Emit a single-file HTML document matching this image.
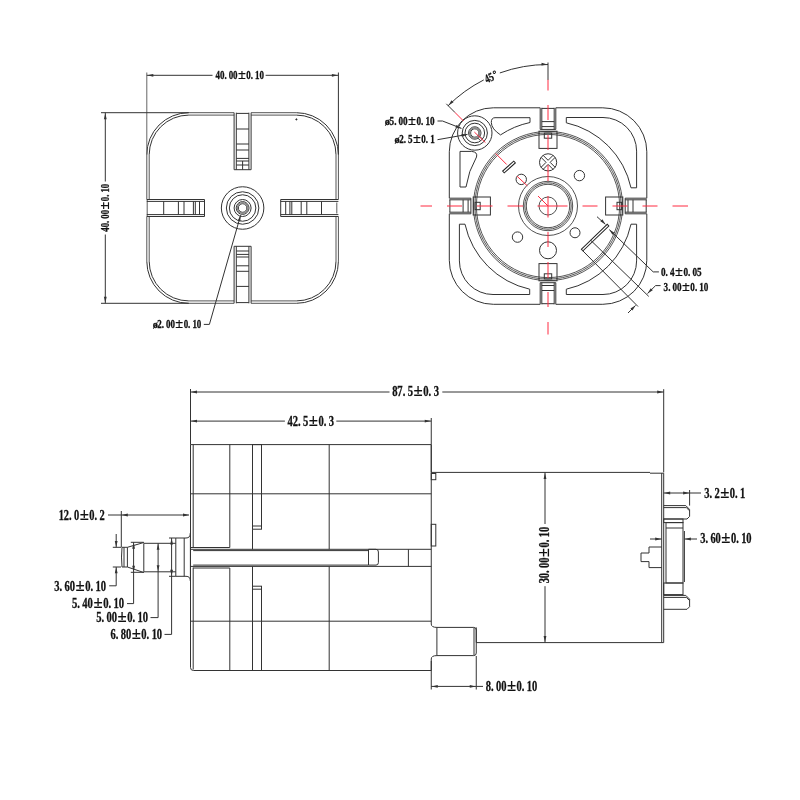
<!DOCTYPE html>
<html><head><meta charset="utf-8"><style>
html,body{margin:0;padding:0;background:#fff;}
svg{display:block;will-change:transform;}
text{font-family:"Liberation Serif",serif;font-weight:bold;fill:#111;stroke:#111;stroke-width:0.3px;}
text.pm{stroke-width:0.15px;}
</style></head><body>
<svg width="800" height="800" viewBox="0 0 800 800">
<rect width="800" height="800" fill="#fff"/>
<line x1="188.80" y1="112.70" x2="234.10" y2="112.70" stroke="#555" stroke-width="1.0" />
<line x1="251.10" y1="112.70" x2="296.40" y2="112.70" stroke="#555" stroke-width="1.0" />
<line x1="188.80" y1="303.30" x2="234.10" y2="303.30" stroke="#555" stroke-width="1.0" />
<line x1="251.10" y1="303.30" x2="296.40" y2="303.30" stroke="#555" stroke-width="1.0" />
<line x1="146.80" y1="154.70" x2="146.80" y2="199.50" stroke="#555" stroke-width="1.0" />
<line x1="146.80" y1="216.50" x2="146.80" y2="261.30" stroke="#555" stroke-width="1.0" />
<line x1="338.40" y1="154.70" x2="338.40" y2="199.50" stroke="#555" stroke-width="1.0" />
<line x1="338.40" y1="216.50" x2="338.40" y2="261.30" stroke="#555" stroke-width="1.0" />
<path d="M146.80,154.70 A42,42 0 0 1 188.80,112.70" stroke="#333" stroke-width="1.0" fill="none" />
<path d="M296.40,112.70 A42,42 0 0 1 338.40,154.70" stroke="#333" stroke-width="1.0" fill="none" />
<path d="M338.40,261.30 A42,42 0 0 1 296.40,303.30" stroke="#333" stroke-width="1.0" fill="none" />
<path d="M188.80,303.30 A42,42 0 0 1 146.80,261.30" stroke="#333" stroke-width="1.0" fill="none" />
<line x1="188.80" y1="115.10" x2="234.10" y2="115.10" stroke="#555" stroke-width="1.0" />
<line x1="251.10" y1="115.10" x2="296.40" y2="115.10" stroke="#555" stroke-width="1.0" />
<line x1="188.80" y1="300.90" x2="234.10" y2="300.90" stroke="#555" stroke-width="1.0" />
<line x1="251.10" y1="300.90" x2="296.40" y2="300.90" stroke="#555" stroke-width="1.0" />
<line x1="149.20" y1="154.70" x2="149.20" y2="199.50" stroke="#555" stroke-width="1.0" />
<line x1="149.20" y1="216.50" x2="149.20" y2="261.30" stroke="#555" stroke-width="1.0" />
<line x1="336.00" y1="154.70" x2="336.00" y2="199.50" stroke="#555" stroke-width="1.0" />
<line x1="336.00" y1="216.50" x2="336.00" y2="261.30" stroke="#555" stroke-width="1.0" />
<path d="M149.20,154.70 A39.6,39.6 0 0 1 188.80,115.10" stroke="#333" stroke-width="1.0" fill="none" />
<path d="M296.40,115.10 A39.6,39.6 0 0 1 336.00,154.70" stroke="#333" stroke-width="1.0" fill="none" />
<path d="M336.00,261.30 A39.6,39.6 0 0 1 296.40,300.90" stroke="#333" stroke-width="1.0" fill="none" />
<path d="M188.80,300.90 A39.6,39.6 0 0 1 149.20,261.30" stroke="#333" stroke-width="1.0" fill="none" />
<circle cx="296.40" cy="119.40" r="0.60" stroke="#333" stroke-width="1.0" fill="#222"/>
<line x1="234.10" y1="112.70" x2="234.10" y2="169.70" stroke="#333" stroke-width="1.0" />
<line x1="251.10" y1="112.70" x2="251.10" y2="169.70" stroke="#333" stroke-width="1.0" />
<line x1="236.30" y1="112.70" x2="236.30" y2="169.70" stroke="#333" stroke-width="1.0" />
<line x1="248.90" y1="112.70" x2="248.90" y2="169.70" stroke="#333" stroke-width="1.0" />
<line x1="234.10" y1="169.70" x2="251.10" y2="169.70" stroke="#333" stroke-width="1.0" />
<line x1="236.30" y1="113.40" x2="248.90" y2="113.40" stroke="#333" stroke-width="1.0" />
<line x1="236.30" y1="129.00" x2="248.90" y2="129.00" stroke="#333" stroke-width="1.0" />
<line x1="236.30" y1="144.00" x2="248.90" y2="144.00" stroke="#333" stroke-width="1.0" />
<line x1="236.30" y1="150.00" x2="248.90" y2="150.00" stroke="#333" stroke-width="1.0" />
<line x1="236.30" y1="158.40" x2="248.90" y2="158.40" stroke="#333" stroke-width="1.0" />
<line x1="236.30" y1="161.00" x2="248.90" y2="161.00" stroke="#333" stroke-width="1.0" />
<line x1="236.30" y1="165.00" x2="248.90" y2="165.00" stroke="#333" stroke-width="1.0" />
<line x1="242.60" y1="161.00" x2="242.60" y2="169.70" stroke="#333" stroke-width="1.0" />
<line x1="234.10" y1="303.30" x2="234.10" y2="246.30" stroke="#333" stroke-width="1.0" />
<line x1="251.10" y1="303.30" x2="251.10" y2="246.30" stroke="#333" stroke-width="1.0" />
<line x1="236.30" y1="303.30" x2="236.30" y2="246.30" stroke="#333" stroke-width="1.0" />
<line x1="248.90" y1="303.30" x2="248.90" y2="246.30" stroke="#333" stroke-width="1.0" />
<line x1="234.10" y1="246.30" x2="251.10" y2="246.30" stroke="#333" stroke-width="1.0" />
<line x1="236.30" y1="302.60" x2="248.90" y2="302.60" stroke="#333" stroke-width="1.0" />
<line x1="236.30" y1="251.00" x2="248.90" y2="251.00" stroke="#333" stroke-width="1.0" />
<line x1="236.30" y1="254.40" x2="248.90" y2="254.40" stroke="#333" stroke-width="1.0" />
<line x1="236.30" y1="257.00" x2="248.90" y2="257.00" stroke="#333" stroke-width="1.0" />
<line x1="236.30" y1="265.80" x2="248.90" y2="265.80" stroke="#333" stroke-width="1.0" />
<line x1="236.30" y1="271.30" x2="248.90" y2="271.30" stroke="#333" stroke-width="1.0" />
<line x1="236.30" y1="286.40" x2="248.90" y2="286.40" stroke="#333" stroke-width="1.0" />
<line x1="146.80" y1="199.50" x2="204.50" y2="199.50" stroke="#333" stroke-width="1.0" />
<line x1="146.80" y1="216.50" x2="204.50" y2="216.50" stroke="#333" stroke-width="1.0" />
<line x1="146.80" y1="201.40" x2="204.50" y2="201.40" stroke="#333" stroke-width="1.0" />
<line x1="146.80" y1="214.60" x2="204.50" y2="214.60" stroke="#333" stroke-width="1.0" />
<line x1="204.50" y1="199.50" x2="204.50" y2="216.50" stroke="#333" stroke-width="1.0" />
<line x1="163.70" y1="201.40" x2="163.70" y2="214.60" stroke="#333" stroke-width="1.0" />
<line x1="178.40" y1="201.40" x2="178.40" y2="214.60" stroke="#333" stroke-width="1.0" />
<line x1="184.00" y1="201.40" x2="184.00" y2="214.60" stroke="#333" stroke-width="1.0" />
<line x1="193.40" y1="201.40" x2="193.40" y2="214.60" stroke="#333" stroke-width="1.0" />
<line x1="195.30" y1="201.40" x2="195.30" y2="214.60" stroke="#333" stroke-width="1.0" />
<line x1="199.50" y1="201.40" x2="199.50" y2="214.60" stroke="#333" stroke-width="1.0" />
<line x1="147.20" y1="199.50" x2="147.20" y2="216.50" stroke="#333" stroke-width="0.8" />
<line x1="336.80" y1="202.50" x2="336.80" y2="213.50" stroke="#333" stroke-width="0.8" />
<line x1="338.40" y1="199.50" x2="280.70" y2="199.50" stroke="#333" stroke-width="1.0" />
<line x1="338.40" y1="216.50" x2="280.70" y2="216.50" stroke="#333" stroke-width="1.0" />
<line x1="338.40" y1="201.40" x2="280.70" y2="201.40" stroke="#333" stroke-width="1.0" />
<line x1="338.40" y1="214.60" x2="280.70" y2="214.60" stroke="#333" stroke-width="1.0" />
<line x1="280.70" y1="199.50" x2="280.70" y2="216.50" stroke="#333" stroke-width="1.0" />
<line x1="321.50" y1="201.40" x2="321.50" y2="214.60" stroke="#333" stroke-width="1.0" />
<line x1="306.80" y1="201.40" x2="306.80" y2="214.60" stroke="#333" stroke-width="1.0" />
<line x1="301.20" y1="201.40" x2="301.20" y2="214.60" stroke="#333" stroke-width="1.0" />
<line x1="291.80" y1="201.40" x2="291.80" y2="214.60" stroke="#333" stroke-width="1.0" />
<line x1="289.90" y1="201.40" x2="289.90" y2="214.60" stroke="#333" stroke-width="1.0" />
<line x1="285.70" y1="201.40" x2="285.70" y2="214.60" stroke="#333" stroke-width="1.0" />
<circle cx="242.60" cy="208.00" r="21.25" stroke="#333" stroke-width="1.0" fill="none"/>
<circle cx="242.60" cy="208.00" r="16.25" stroke="#333" stroke-width="1.0" fill="none"/>
<circle cx="242.60" cy="208.00" r="13.25" stroke="#333" stroke-width="1.0" fill="none"/>
<circle cx="242.60" cy="208.00" r="8.50" stroke="#333" stroke-width="1.0" fill="none"/>
<circle cx="242.60" cy="208.00" r="6.40" stroke="#333" stroke-width="1.0" fill="none"/>
<circle cx="242.60" cy="208.00" r="4.30" stroke="#333" stroke-width="1.0" fill="none"/>
<circle cx="242.60" cy="208.00" r="5.35" stroke="#888" stroke-width="1.4" fill="none"/>
<line x1="146.80" y1="72.50" x2="146.80" y2="154.70" stroke="#666" stroke-width="1.0" />
<line x1="338.40" y1="72.50" x2="338.40" y2="154.70" stroke="#333" stroke-width="1.0" />
<line x1="146.80" y1="75.30" x2="212.50" y2="75.30" stroke="#333" stroke-width="1.0" />
<line x1="265.60" y1="75.30" x2="338.40" y2="75.30" stroke="#333" stroke-width="1.0" />
<path d="M147.30,75.30 L153.30,73.90 L153.30,76.70Z" fill="#333" stroke="none"/>
<path d="M337.90,75.30 L331.90,76.70 L331.90,73.90Z" fill="#333" stroke="none"/>
<g><text transform="translate(217.79 78.80) scale(0.761 1)" font-size="11.79" text-anchor="middle">4</text><text transform="translate(222.17 78.80) scale(0.761 1)" font-size="11.79" text-anchor="middle">0</text><text transform="translate(225.55 78.80) scale(0.761 1)" font-size="11.79" text-anchor="middle">.</text><text transform="translate(230.94 78.80) scale(0.761 1)" font-size="11.79" text-anchor="middle">0</text><text transform="translate(235.32 78.80) scale(0.761 1)" font-size="11.79" text-anchor="middle">0</text><text transform="translate(241.89 78.80) scale(1.000 1)" font-size="14.36" text-anchor="middle" class="pm">±</text><text transform="translate(248.46 78.80) scale(0.761 1)" font-size="11.79" text-anchor="middle">0</text><text transform="translate(251.84 78.80) scale(0.761 1)" font-size="11.79" text-anchor="middle">.</text><text transform="translate(257.23 78.80) scale(0.761 1)" font-size="11.79" text-anchor="middle">1</text><text transform="translate(261.61 78.80) scale(0.761 1)" font-size="11.79" text-anchor="middle">0</text></g>
<line x1="101.00" y1="112.70" x2="188.80" y2="112.70" stroke="#333" stroke-width="1.0" />
<line x1="101.00" y1="303.30" x2="188.80" y2="303.30" stroke="#333" stroke-width="1.0" />
<line x1="105.30" y1="112.70" x2="105.30" y2="181.50" stroke="#333" stroke-width="1.0" />
<line x1="105.30" y1="234.50" x2="105.30" y2="303.30" stroke="#333" stroke-width="1.0" />
<path d="M105.30,113.20 L106.70,119.20 L103.90,119.20Z" fill="#333" stroke="none"/>
<path d="M105.30,302.80 L103.90,296.80 L106.70,296.80Z" fill="#333" stroke="none"/>
<g transform="rotate(-90 105.25 207.75)"><text transform="translate(83.52 211.70) scale(0.755 1)" font-size="11.79" text-anchor="middle">4</text><text transform="translate(87.87 211.70) scale(0.755 1)" font-size="11.79" text-anchor="middle">0</text><text transform="translate(91.21 211.70) scale(0.755 1)" font-size="11.79" text-anchor="middle">.</text><text transform="translate(96.56 211.70) scale(0.755 1)" font-size="11.79" text-anchor="middle">0</text><text transform="translate(100.90 211.70) scale(0.755 1)" font-size="11.79" text-anchor="middle">0</text><text transform="translate(107.42 211.70) scale(1.000 1)" font-size="14.36" text-anchor="middle" class="pm">±</text><text transform="translate(113.94 211.70) scale(0.755 1)" font-size="11.79" text-anchor="middle">0</text><text transform="translate(117.29 211.70) scale(0.755 1)" font-size="11.79" text-anchor="middle">.</text><text transform="translate(122.63 211.70) scale(0.755 1)" font-size="11.79" text-anchor="middle">1</text><text transform="translate(126.98 211.70) scale(0.755 1)" font-size="11.79" text-anchor="middle">0</text></g>
<line x1="240.60" y1="215.30" x2="209.40" y2="324.40" stroke="#333" stroke-width="1.0" />
<line x1="209.40" y1="324.40" x2="203.80" y2="324.40" stroke="#333" stroke-width="1.0" />
<path d="M240.60,215.30 L240.30,221.45 L237.60,220.68Z" fill="#333" stroke="none"/>
<g><text transform="translate(155.19 327.90) scale(0.906 1)" font-size="11.20" text-anchor="middle">ø</text><text transform="translate(159.57 328.10) scale(0.761 1)" font-size="11.79" text-anchor="middle">2</text><text transform="translate(162.95 328.10) scale(0.761 1)" font-size="11.79" text-anchor="middle">.</text><text transform="translate(168.34 328.10) scale(0.761 1)" font-size="11.79" text-anchor="middle">0</text><text transform="translate(172.72 328.10) scale(0.761 1)" font-size="11.79" text-anchor="middle">0</text><text transform="translate(179.29 328.10) scale(1.000 1)" font-size="14.36" text-anchor="middle" class="pm">±</text><text transform="translate(185.86 328.10) scale(0.761 1)" font-size="11.79" text-anchor="middle">0</text><text transform="translate(189.24 328.10) scale(0.761 1)" font-size="11.79" text-anchor="middle">.</text><text transform="translate(194.63 328.10) scale(0.761 1)" font-size="11.79" text-anchor="middle">1</text><text transform="translate(199.01 328.10) scale(0.761 1)" font-size="11.79" text-anchor="middle">0</text></g>
<line x1="493.30" y1="107.80" x2="540.20" y2="107.80" stroke="#333" stroke-width="1.0" />
<line x1="555.80" y1="107.80" x2="602.80" y2="107.80" stroke="#333" stroke-width="1.0" />
<line x1="493.30" y1="304.30" x2="540.20" y2="304.30" stroke="#333" stroke-width="1.0" />
<line x1="555.80" y1="304.30" x2="602.80" y2="304.30" stroke="#333" stroke-width="1.0" />
<line x1="449.30" y1="151.80" x2="449.30" y2="198.20" stroke="#333" stroke-width="1.0" />
<line x1="449.30" y1="213.80" x2="449.30" y2="260.30" stroke="#333" stroke-width="1.0" />
<line x1="646.80" y1="151.80" x2="646.80" y2="198.20" stroke="#333" stroke-width="1.0" />
<line x1="646.80" y1="213.80" x2="646.80" y2="260.30" stroke="#333" stroke-width="1.0" />
<path d="M449.30,151.80 A44,44 0 0 1 493.30,107.80" stroke="#333" stroke-width="1.0" fill="none" />
<path d="M602.80,107.80 A44,44 0 0 1 646.80,151.80" stroke="#333" stroke-width="1.0" fill="none" />
<path d="M646.80,260.30 A44,44 0 0 1 602.80,304.30" stroke="#333" stroke-width="1.0" fill="none" />
<path d="M493.30,304.30 A44,44 0 0 1 449.30,260.30" stroke="#333" stroke-width="1.0" fill="none" />
<circle cx="548.00" cy="206.00" r="74.60" stroke="#444" stroke-width="0.9" fill="none"/>
<circle cx="548.00" cy="206.00" r="73.10" stroke="#444" stroke-width="0.9" fill="none"/>
<circle cx="548.00" cy="206.00" r="71.60" stroke="#444" stroke-width="0.9" fill="none"/>
<line x1="540.20" y1="107.80" x2="540.20" y2="129.40" stroke="#333" stroke-width="1.0" />
<line x1="555.80" y1="107.80" x2="555.80" y2="129.40" stroke="#333" stroke-width="1.0" />
<line x1="541.80" y1="107.80" x2="541.80" y2="129.40" stroke="#333" stroke-width="1.0" />
<line x1="554.20" y1="107.80" x2="554.20" y2="129.40" stroke="#333" stroke-width="1.0" />
<line x1="540.20" y1="129.40" x2="555.80" y2="129.40" stroke="#333" stroke-width="1.0" />
<line x1="541.80" y1="108.40" x2="554.20" y2="108.40" stroke="#333" stroke-width="1.0" />
<line x1="541.80" y1="121.60" x2="554.20" y2="121.60" stroke="#333" stroke-width="1.0" />
<line x1="541.80" y1="126.60" x2="554.20" y2="126.60" stroke="#333" stroke-width="1.0" />
<line x1="540.20" y1="304.30" x2="540.20" y2="282.70" stroke="#333" stroke-width="1.0" />
<line x1="555.80" y1="304.30" x2="555.80" y2="282.70" stroke="#333" stroke-width="1.0" />
<line x1="541.80" y1="304.30" x2="541.80" y2="282.70" stroke="#333" stroke-width="1.0" />
<line x1="554.20" y1="304.30" x2="554.20" y2="282.70" stroke="#333" stroke-width="1.0" />
<line x1="540.20" y1="282.70" x2="555.80" y2="282.70" stroke="#333" stroke-width="1.0" />
<line x1="541.80" y1="303.70" x2="554.20" y2="303.70" stroke="#333" stroke-width="1.0" />
<line x1="541.80" y1="290.50" x2="554.20" y2="290.50" stroke="#333" stroke-width="1.0" />
<line x1="541.80" y1="285.50" x2="554.20" y2="285.50" stroke="#333" stroke-width="1.0" />
<line x1="449.30" y1="198.20" x2="470.90" y2="198.20" stroke="#333" stroke-width="1.0" />
<line x1="449.30" y1="213.80" x2="470.90" y2="213.80" stroke="#333" stroke-width="1.0" />
<line x1="449.30" y1="199.80" x2="470.90" y2="199.80" stroke="#333" stroke-width="1.0" />
<line x1="449.30" y1="212.20" x2="470.90" y2="212.20" stroke="#333" stroke-width="1.0" />
<line x1="470.90" y1="198.20" x2="470.90" y2="213.80" stroke="#333" stroke-width="1.0" />
<line x1="449.90" y1="199.80" x2="449.90" y2="212.20" stroke="#333" stroke-width="1.0" />
<line x1="463.10" y1="199.80" x2="463.10" y2="212.20" stroke="#333" stroke-width="1.0" />
<line x1="468.10" y1="199.80" x2="468.10" y2="212.20" stroke="#333" stroke-width="1.0" />
<line x1="646.80" y1="198.20" x2="625.20" y2="198.20" stroke="#333" stroke-width="1.0" />
<line x1="646.80" y1="213.80" x2="625.20" y2="213.80" stroke="#333" stroke-width="1.0" />
<line x1="646.80" y1="199.80" x2="625.20" y2="199.80" stroke="#333" stroke-width="1.0" />
<line x1="646.80" y1="212.20" x2="625.20" y2="212.20" stroke="#333" stroke-width="1.0" />
<line x1="625.20" y1="198.20" x2="625.20" y2="213.80" stroke="#333" stroke-width="1.0" />
<line x1="646.20" y1="199.80" x2="646.20" y2="212.20" stroke="#333" stroke-width="1.0" />
<line x1="633.00" y1="199.80" x2="633.00" y2="212.20" stroke="#333" stroke-width="1.0" />
<line x1="628.00" y1="199.80" x2="628.00" y2="212.20" stroke="#333" stroke-width="1.0" />
<rect x="539.00" y="131.20" width="18.00" height="17.20" stroke="#333" stroke-width="1.0" fill="none"/>
<rect x="539.00" y="263.60" width="18.00" height="17.20" stroke="#333" stroke-width="1.0" fill="none"/>
<rect x="473.20" y="197.00" width="17.20" height="18.00" stroke="#333" stroke-width="1.0" fill="none"/>
<rect x="605.60" y="197.00" width="17.20" height="18.00" stroke="#333" stroke-width="1.0" fill="none"/>
<rect x="544.30" y="133.10" width="7.40" height="5.10" stroke="#333" stroke-width="1.0" fill="none"/>
<rect x="544.30" y="273.80" width="7.40" height="5.10" stroke="#333" stroke-width="1.0" fill="none"/>
<rect x="475.10" y="202.30" width="5.10" height="7.40" stroke="#333" stroke-width="1.0" fill="none"/>
<rect x="617.00" y="202.30" width="4.60" height="7.40" stroke="#333" stroke-width="1.0" fill="none"/>
<circle cx="548.00" cy="206.00" r="29.50" stroke="#333" stroke-width="0.85" fill="none"/>
<circle cx="548.00" cy="206.00" r="24.70" stroke="#333" stroke-width="0.85" fill="none"/>
<circle cx="548.00" cy="206.00" r="23.20" stroke="#333" stroke-width="0.85" fill="none"/>
<circle cx="548.00" cy="206.00" r="21.70" stroke="#333" stroke-width="0.85" fill="none"/>
<circle cx="548.00" cy="206.00" r="9.00" stroke="#333" stroke-width="0.85" fill="none"/>
<circle cx="548.10" cy="162.35" r="8.60" stroke="#333" stroke-width="1.0" fill="none"/>
<line x1="548.10" y1="160.30" x2="543.13" y2="155.33" stroke="#333" stroke-width="1.0" />
<line x1="548.10" y1="160.30" x2="553.07" y2="155.33" stroke="#333" stroke-width="1.0" />
<line x1="550.15" y1="162.35" x2="555.12" y2="157.38" stroke="#333" stroke-width="1.0" />
<line x1="550.15" y1="162.35" x2="555.12" y2="167.32" stroke="#333" stroke-width="1.0" />
<line x1="548.10" y1="164.40" x2="553.07" y2="169.37" stroke="#333" stroke-width="1.0" />
<line x1="548.10" y1="164.40" x2="543.13" y2="169.37" stroke="#333" stroke-width="1.0" />
<line x1="546.05" y1="162.35" x2="541.08" y2="167.32" stroke="#333" stroke-width="1.0" />
<line x1="546.05" y1="162.35" x2="541.08" y2="157.38" stroke="#333" stroke-width="1.0" />
<circle cx="521.25" cy="179.40" r="5.20" stroke="#333" stroke-width="1.0" fill="none"/>
<circle cx="579.40" cy="175.60" r="5.20" stroke="#333" stroke-width="1.0" fill="none"/>
<circle cx="517.50" cy="237.10" r="5.20" stroke="#333" stroke-width="1.0" fill="none"/>
<circle cx="575.00" cy="232.75" r="5.00" stroke="#333" stroke-width="1.0" fill="none"/>
<circle cx="548.00" cy="250.30" r="8.50" stroke="#333" stroke-width="1.0" fill="none"/>
<rect x="-7.5" y="-1.2" width="15" height="2.4" transform="translate(509 167) rotate(-42)" stroke="#222" stroke-width="1" fill="none"/>
<circle cx="474.80" cy="133.00" r="17.20" stroke="#333" stroke-width="1.0" fill="none"/>
<circle cx="474.80" cy="133.00" r="12.60" stroke="#333" stroke-width="1.0" fill="none"/>
<circle cx="474.80" cy="133.00" r="9.80" stroke="#333" stroke-width="1.0" fill="none"/>
<circle cx="474.80" cy="133.00" r="6.20" stroke="#333" stroke-width="1.0" fill="none"/>
<circle cx="474.80" cy="133.00" r="4.20" stroke="#333" stroke-width="1.0" fill="none"/>
<circle cx="474.80" cy="133.00" r="5.20" stroke="#888" stroke-width="1.5" fill="none"/>
<line x1="478.00" y1="138.20" x2="480.40" y2="140.60" stroke="#333" stroke-width="1.0" />
<line x1="479.80" y1="136.40" x2="482.20" y2="138.80" stroke="#333" stroke-width="1.0" />
<path d="M566.3,117.5 L603,117.5 A33.6,33.6 0 0 1 636.6,151.1 L636.6,187.8 L631,187.8 A85,85 0 0 0 566.3,122.8 Z" stroke="#333" stroke-width="1.0" fill="none" />
<path d="M566.3,294.5 L603,294.5 A33.6,33.6 0 0 0 636.6,260.9 L636.6,224.2 L631,224.2 A85,85 0 0 1 566.3,289.2 Z" stroke="#333" stroke-width="1.0" fill="none" />
<path d="M529.7,294.5 L493,294.5 A33.6,33.6 0 0 1 459.4,260.9 L459.4,224.2 L465,224.2 A85,85 0 0 0 529.7,289.2 Z" stroke="#333" stroke-width="1.0" fill="none" />
<path d="M495,117.7 L530,117.7 L530,122.5 A85,85 0 0 0 500.5,134.9 Q491.5,129 491.3,122.5 Q491.3,117.7 495,117.7 Z" stroke="#333" stroke-width="1.0" fill="none" />
<path d="M460,151.4 L471.6,151.4 Q478,152 476.5,157 A85,85 0 0 0 466,187 L460,187 Z" stroke="#333" stroke-width="1.0" fill="none" />
<line x1="420.50" y1="206.00" x2="432.00" y2="206.00" stroke="#ff2a40" stroke-width="1.0" />
<line x1="447.00" y1="206.00" x2="462.00" y2="206.00" stroke="#ff2a40" stroke-width="1.0" />
<line x1="477.00" y1="206.00" x2="492.50" y2="206.00" stroke="#ff2a40" stroke-width="1.0" />
<line x1="507.50" y1="206.00" x2="523.00" y2="206.00" stroke="#ff2a40" stroke-width="1.0" />
<line x1="537.50" y1="206.00" x2="567.50" y2="206.00" stroke="#ff2a40" stroke-width="1.0" />
<line x1="582.50" y1="206.00" x2="597.50" y2="206.00" stroke="#ff2a40" stroke-width="1.0" />
<line x1="612.50" y1="206.00" x2="627.50" y2="206.00" stroke="#ff2a40" stroke-width="1.0" />
<line x1="642.50" y1="206.00" x2="657.50" y2="206.00" stroke="#ff2a40" stroke-width="1.0" />
<line x1="672.50" y1="206.00" x2="688.00" y2="206.00" stroke="#ff2a40" stroke-width="1.0" />
<line x1="548.00" y1="79.50" x2="548.00" y2="90.50" stroke="#ff2a40" stroke-width="1.0" />
<line x1="548.00" y1="105.00" x2="548.00" y2="120.00" stroke="#ff2a40" stroke-width="1.0" />
<line x1="548.00" y1="135.00" x2="548.00" y2="150.00" stroke="#ff2a40" stroke-width="1.0" />
<line x1="548.00" y1="165.00" x2="548.00" y2="181.00" stroke="#ff2a40" stroke-width="1.0" />
<line x1="548.00" y1="196.00" x2="548.00" y2="217.50" stroke="#ff2a40" stroke-width="1.0" />
<line x1="548.00" y1="232.00" x2="548.00" y2="247.00" stroke="#ff2a40" stroke-width="1.0" />
<line x1="548.00" y1="262.00" x2="548.00" y2="278.00" stroke="#ff2a40" stroke-width="1.0" />
<line x1="548.00" y1="292.00" x2="548.00" y2="307.00" stroke="#ff2a40" stroke-width="1.0" />
<line x1="548.00" y1="322.00" x2="548.00" y2="334.50" stroke="#ff2a40" stroke-width="1.0" />
<line x1="548.00" y1="62.50" x2="548.00" y2="79.80" stroke="#333" stroke-width="1.0" />
<line x1="446.30" y1="103.80" x2="455.00" y2="112.50" stroke="#333" stroke-width="1.0" />
<line x1="455.00" y1="112.50" x2="463.50" y2="121.00" stroke="#ff2a40" stroke-width="1.0" />
<line x1="474.40" y1="132.10" x2="485.40" y2="142.50" stroke="#ff2a40" stroke-width="1.0" />
<line x1="495.70" y1="153.50" x2="506.70" y2="164.50" stroke="#ff2a40" stroke-width="1.0" />
<line x1="517.00" y1="176.20" x2="527.30" y2="185.80" stroke="#ff2a40" stroke-width="1.0" />
<line x1="538.00" y1="196.00" x2="548.00" y2="206.00" stroke="#ff2a40" stroke-width="1.0" />
<path d="M548.00,64.50 A141.5,141.5 0 0 0 499.84,72.95" stroke="#333" stroke-width="1.0" fill="none" />
<path d="M483.76,79.92 A141.5,141.5 0 0 0 447.94,105.94" stroke="#333" stroke-width="1.0" fill="none" />
<path d="M547.50,64.50 L541.44,65.60 L541.58,62.80Z" fill="#333" stroke="none"/>
<path d="M448.34,105.54 L451.52,100.27 L453.53,102.22Z" fill="#333" stroke="none"/>
<g transform="rotate(-24 491.00 77.00)"><text transform="translate(486.87 81.10) scale(0.725 1)" font-size="12.24" text-anchor="middle">4</text><text transform="translate(491.20 81.10) scale(0.725 1)" font-size="12.24" text-anchor="middle">5</text><circle cx="495.97" cy="74.00" r="1.15" stroke="#111" stroke-width="0.9" fill="none"/></g>
<line x1="437.50" y1="121.00" x2="442.50" y2="121.00" stroke="#333" stroke-width="1.0" />
<line x1="442.50" y1="121.00" x2="461.50" y2="128.40" stroke="#333" stroke-width="1.0" />
<path d="M461.50,128.40 L455.40,127.53 L456.42,124.92Z" fill="#333" stroke="none"/>
<line x1="437.50" y1="139.70" x2="467.50" y2="134.40" stroke="#333" stroke-width="1.0" />
<path d="M467.50,134.40 L461.84,136.82 L461.35,134.07Z" fill="#333" stroke="none"/>
<g><text transform="translate(387.35 124.70) scale(0.917 1)" font-size="11.34" text-anchor="middle">ø</text><text transform="translate(391.84 124.90) scale(0.770 1)" font-size="11.94" text-anchor="middle">5</text><text transform="translate(395.29 124.90) scale(0.770 1)" font-size="11.94" text-anchor="middle">.</text><text transform="translate(400.82 124.90) scale(0.770 1)" font-size="11.94" text-anchor="middle">0</text><text transform="translate(405.31 124.90) scale(0.770 1)" font-size="11.94" text-anchor="middle">0</text><text transform="translate(412.05 124.90) scale(1.000 1)" font-size="14.55" text-anchor="middle" class="pm">±</text><text transform="translate(418.78 124.90) scale(0.770 1)" font-size="11.94" text-anchor="middle">0</text><text transform="translate(422.24 124.90) scale(0.770 1)" font-size="11.94" text-anchor="middle">.</text><text transform="translate(427.76 124.90) scale(0.770 1)" font-size="11.94" text-anchor="middle">1</text><text transform="translate(432.25 124.90) scale(0.770 1)" font-size="11.94" text-anchor="middle">0</text></g>
<g><text transform="translate(397.01 143.20) scale(0.915 1)" font-size="11.20" text-anchor="middle">ø</text><text transform="translate(401.43 143.40) scale(0.768 1)" font-size="11.79" text-anchor="middle">2</text><text transform="translate(404.84 143.40) scale(0.768 1)" font-size="11.79" text-anchor="middle">.</text><text transform="translate(410.28 143.40) scale(0.768 1)" font-size="11.79" text-anchor="middle">5</text><text transform="translate(416.91 143.40) scale(1.000 1)" font-size="14.36" text-anchor="middle" class="pm">±</text><text transform="translate(423.54 143.40) scale(0.768 1)" font-size="11.79" text-anchor="middle">0</text><text transform="translate(426.95 143.40) scale(0.768 1)" font-size="11.79" text-anchor="middle">.</text><text transform="translate(432.39 143.40) scale(0.768 1)" font-size="11.79" text-anchor="middle">1</text></g>
<rect x="-18" y="-1.1" width="36" height="2.2" transform="translate(595.1 237.6) rotate(-44)" stroke="#222" stroke-width="1" fill="none"/>
<line x1="609.40" y1="229.70" x2="653.20" y2="271.90" stroke="#333" stroke-width="1.0" />
<line x1="653.20" y1="271.90" x2="658.90" y2="271.90" stroke="#333" stroke-width="1.0" />
<line x1="597.00" y1="216.70" x2="605.20" y2="224.20" stroke="#333" stroke-width="1.0" />
<path d="M605.60,224.60 L600.37,221.35 L602.35,219.37Z" fill="#333" stroke="none"/>
<path d="M609.20,229.40 L614.43,232.65 L612.45,234.63Z" fill="#333" stroke="none"/>
<line x1="590.80" y1="240.40" x2="648.75" y2="296.40" stroke="#333" stroke-width="1.0" />
<line x1="583.00" y1="251.00" x2="638.00" y2="306.50" stroke="#333" stroke-width="1.0" />
<line x1="655.60" y1="285.60" x2="660.60" y2="285.60" stroke="#333" stroke-width="1.0" />
<line x1="655.60" y1="285.60" x2="647.50" y2="293.60" stroke="#333" stroke-width="1.0" />
<path d="M647.50,293.60 L650.75,288.37 L652.73,290.35Z" fill="#333" stroke="none"/>
<line x1="628.00" y1="313.00" x2="635.50" y2="305.50" stroke="#333" stroke-width="1.0" />
<path d="M635.70,305.30 L632.45,310.53 L630.47,308.55Z" fill="#333" stroke="none"/>
<g><text transform="translate(663.25 276.45) scale(0.781 1)" font-size="11.79" text-anchor="middle">0</text><text transform="translate(666.72 276.45) scale(0.781 1)" font-size="11.79" text-anchor="middle">.</text><text transform="translate(672.25 276.45) scale(0.781 1)" font-size="11.79" text-anchor="middle">4</text><text transform="translate(679.00 276.45) scale(1.000 1)" font-size="14.36" text-anchor="middle" class="pm">±</text><text transform="translate(685.75 276.45) scale(0.781 1)" font-size="11.79" text-anchor="middle">0</text><text transform="translate(689.22 276.45) scale(0.781 1)" font-size="11.79" text-anchor="middle">.</text><text transform="translate(694.75 276.45) scale(0.781 1)" font-size="11.79" text-anchor="middle">0</text><text transform="translate(699.25 276.45) scale(0.781 1)" font-size="11.79" text-anchor="middle">5</text></g>
<g><text transform="translate(665.84 290.50) scale(0.776 1)" font-size="11.79" text-anchor="middle">3</text><text transform="translate(669.28 290.50) scale(0.776 1)" font-size="11.79" text-anchor="middle">.</text><text transform="translate(674.78 290.50) scale(0.776 1)" font-size="11.79" text-anchor="middle">0</text><text transform="translate(679.25 290.50) scale(0.776 1)" font-size="11.79" text-anchor="middle">0</text><text transform="translate(685.95 290.50) scale(1.000 1)" font-size="14.36" text-anchor="middle" class="pm">±</text><text transform="translate(692.66 290.50) scale(0.776 1)" font-size="11.79" text-anchor="middle">0</text><text transform="translate(696.10 290.50) scale(0.776 1)" font-size="11.79" text-anchor="middle">.</text><text transform="translate(701.60 290.50) scale(0.776 1)" font-size="11.79" text-anchor="middle">1</text><text transform="translate(706.07 290.50) scale(0.776 1)" font-size="11.79" text-anchor="middle">0</text></g>
<line x1="190.50" y1="444.60" x2="431.25" y2="444.60" stroke="#333" stroke-width="1.0" />
<line x1="431.25" y1="444.60" x2="431.25" y2="624.00" stroke="#333" stroke-width="1.0" />
<path d="M431.25,624 Q431.25,627.4 436.9,627.4" stroke="#333" stroke-width="1.0" fill="none" />
<path d="M436.9,655.6 Q431.25,655.6 431.25,659" stroke="#333" stroke-width="1.0" fill="none" />
<line x1="431.25" y1="659.00" x2="431.25" y2="670.50" stroke="#333" stroke-width="1.0" />
<path d="M190.50,444.60 L190.50,667.50 Q190.50,670.50 193.50,670.50 L431.25,670.50" stroke="#333" stroke-width="1.0" fill="none" />
<line x1="193.20" y1="444.60" x2="193.20" y2="547.50" stroke="#333" stroke-width="1.0" />
<line x1="193.20" y1="567.50" x2="193.20" y2="669.50" stroke="#333" stroke-width="1.0" />
<line x1="190.50" y1="493.80" x2="431.25" y2="493.80" stroke="#333" stroke-width="1.0" />
<line x1="190.50" y1="621.20" x2="431.25" y2="621.20" stroke="#333" stroke-width="1.0" />
<line x1="190.50" y1="549.30" x2="431.25" y2="549.30" stroke="#333" stroke-width="1.0" />
<line x1="190.50" y1="566.40" x2="431.25" y2="566.40" stroke="#333" stroke-width="1.0" />
<line x1="193.20" y1="550.60" x2="368.50" y2="550.60" stroke="#333" stroke-width="1.0" />
<line x1="193.20" y1="565.10" x2="368.50" y2="565.10" stroke="#333" stroke-width="1.0" />
<line x1="190.50" y1="547.50" x2="229.80" y2="547.50" stroke="#333" stroke-width="1.0" />
<line x1="193.20" y1="568.00" x2="229.80" y2="568.00" stroke="#333" stroke-width="1.0" />
<line x1="229.80" y1="444.60" x2="229.80" y2="547.50" stroke="#333" stroke-width="1.0" />
<line x1="229.80" y1="568.00" x2="229.80" y2="670.50" stroke="#333" stroke-width="1.0" />
<line x1="329.20" y1="444.60" x2="329.20" y2="549.30" stroke="#333" stroke-width="1.0" />
<line x1="329.20" y1="566.40" x2="329.20" y2="670.50" stroke="#333" stroke-width="1.0" />
<rect x="252.50" y="444.60" width="9.00" height="84.60" stroke="#333" stroke-width="1.0" fill="none"/>
<line x1="252.50" y1="526.00" x2="261.50" y2="526.00" stroke="#333" stroke-width="1.0" />
<rect x="252.50" y="586.20" width="9.00" height="84.30" stroke="#333" stroke-width="1.0" fill="none"/>
<line x1="252.50" y1="589.20" x2="261.50" y2="589.20" stroke="#333" stroke-width="1.0" />
<line x1="252.50" y1="529.20" x2="252.50" y2="549.30" stroke="#333" stroke-width="1.0" />
<line x1="252.50" y1="566.40" x2="252.50" y2="586.20" stroke="#333" stroke-width="1.0" />
<path d="M368.5,549.3 L376,549.3 Q378.4,549.3 378.4,552 L378.4,562.6 Q378.4,565.1 376,565.1 L368.5,565.1 Z" stroke="#333" stroke-width="1.0" fill="none" />
<line x1="408.40" y1="549.30" x2="408.40" y2="566.40" stroke="#333" stroke-width="1.0" />
<line x1="431.25" y1="472.40" x2="650.00" y2="472.40" stroke="#333" stroke-width="1.0" />
<line x1="650.00" y1="473.20" x2="663.70" y2="473.20" stroke="#333" stroke-width="1.0" />
<line x1="663.70" y1="473.20" x2="663.70" y2="642.60" stroke="#333" stroke-width="1.0" />
<line x1="661.70" y1="473.20" x2="661.70" y2="642.60" stroke="#333" stroke-width="1.0" />
<line x1="476.25" y1="642.60" x2="663.70" y2="642.60" stroke="#333" stroke-width="1.0" />
<rect x="431.25" y="473.50" width="4.55" height="6.20" stroke="#333" stroke-width="1.0" fill="none"/>
<rect x="431.25" y="524.30" width="4.55" height="21.70" stroke="#333" stroke-width="1.0" fill="none"/>
<line x1="431.25" y1="472.40" x2="431.25" y2="444.60" stroke="#333" stroke-width="1.0" />
<path d="M436.9,627.4 L473.8,627.4 Q476.25,627.4 476.25,630 L476.25,653 Q476.25,655.6 473.8,655.6 L436.9,655.6" stroke="#333" stroke-width="1.0" fill="none" />
<line x1="436.90" y1="627.40" x2="436.90" y2="655.60" stroke="#333" stroke-width="1.0" />
<line x1="474.00" y1="628.00" x2="474.00" y2="655.00" stroke="#333" stroke-width="1.0" />
<line x1="476.25" y1="627.40" x2="476.25" y2="642.60" stroke="#333" stroke-width="1.0" />
<path d="M663.7,505.6 L685.8,505.6 L689.6,509.4 L689.6,516.4 L687,519 L663.7,519" stroke="#333" stroke-width="1.0" fill="none" />
<path d="M663.7,507.6 L686.3,507.6 L689.4,510.6" stroke="#333" stroke-width="1.0" fill="none" />
<path d="M663.7,595.4 L685.8,595.4 L689.6,599.2 L689.6,606.7 L687,609.3 L663.7,609.3" stroke="#333" stroke-width="1.0" fill="none" />
<path d="M663.7,597.4 L686.3,597.4 L689.4,600.4" stroke="#333" stroke-width="1.0" fill="none" />
<rect x="663.70" y="519.00" width="19.30" height="3.60" stroke="#333" stroke-width="1.0" fill="none"/>
<rect x="666.00" y="522.60" width="17.00" height="60.40" stroke="#333" stroke-width="1.0" fill="none"/>
<line x1="684.40" y1="531.00" x2="684.40" y2="582.00" stroke="#333" stroke-width="1.0" />
<rect x="663.70" y="583.00" width="19.30" height="11.60" stroke="#333" stroke-width="1.0" fill="none"/>
<line x1="666.00" y1="528.00" x2="683.00" y2="528.00" stroke="#333" stroke-width="1.0" />
<path d="M661.7,547 L649,547 L649,553 L641,553 L641,561.6 L649,561.6 L649,567.6 L661.7,567.6" stroke="#333" stroke-width="1.0" fill="none" />
<line x1="190.50" y1="389.00" x2="190.50" y2="444.60" stroke="#333" stroke-width="1.0" />
<line x1="663.70" y1="389.20" x2="663.70" y2="472.40" stroke="#333" stroke-width="1.0" />
<line x1="190.50" y1="392.00" x2="389.50" y2="392.00" stroke="#333" stroke-width="1.0" />
<line x1="442.30" y1="392.00" x2="663.70" y2="392.00" stroke="#333" stroke-width="1.0" />
<path d="M191.00,392.00 L197.00,390.60 L197.00,393.40Z" fill="#333" stroke="none"/>
<path d="M663.20,392.00 L657.20,393.40 L657.20,390.60Z" fill="#333" stroke="none"/>
<g><text transform="translate(394.79 396.40) scale(0.774 1)" font-size="13.73" text-anchor="middle">8</text><text transform="translate(399.98 396.40) scale(0.774 1)" font-size="13.73" text-anchor="middle">7</text><text transform="translate(403.98 396.40) scale(0.774 1)" font-size="13.73" text-anchor="middle">.</text><text transform="translate(410.36 396.40) scale(0.774 1)" font-size="13.73" text-anchor="middle">5</text><text transform="translate(418.14 396.40) scale(1.000 1)" font-size="16.73" text-anchor="middle" class="pm">±</text><text transform="translate(425.93 396.40) scale(0.774 1)" font-size="13.73" text-anchor="middle">0</text><text transform="translate(429.92 396.40) scale(0.774 1)" font-size="13.73" text-anchor="middle">.</text><text transform="translate(436.31 396.40) scale(0.774 1)" font-size="13.73" text-anchor="middle">3</text></g>
<line x1="431.25" y1="418.00" x2="431.25" y2="444.60" stroke="#333" stroke-width="1.0" />
<line x1="190.50" y1="421.10" x2="284.90" y2="421.10" stroke="#333" stroke-width="1.0" />
<line x1="336.30" y1="421.10" x2="431.25" y2="421.10" stroke="#333" stroke-width="1.0" />
<path d="M191.00,421.10 L197.00,419.70 L197.00,422.50Z" fill="#333" stroke="none"/>
<path d="M430.75,421.10 L424.75,422.50 L424.75,419.70Z" fill="#333" stroke="none"/>
<g><text transform="translate(290.17 425.70) scale(0.767 1)" font-size="13.73" text-anchor="middle">4</text><text transform="translate(295.32 425.70) scale(0.767 1)" font-size="13.73" text-anchor="middle">2</text><text transform="translate(299.28 425.70) scale(0.767 1)" font-size="13.73" text-anchor="middle">.</text><text transform="translate(305.61 425.70) scale(0.767 1)" font-size="13.73" text-anchor="middle">5</text><text transform="translate(313.32 425.70) scale(1.000 1)" font-size="16.73" text-anchor="middle" class="pm">±</text><text transform="translate(321.04 425.70) scale(0.767 1)" font-size="13.73" text-anchor="middle">0</text><text transform="translate(325.00 425.70) scale(0.767 1)" font-size="13.73" text-anchor="middle">.</text><text transform="translate(331.33 425.70) scale(0.767 1)" font-size="13.73" text-anchor="middle">3</text></g>
<line x1="545.00" y1="472.40" x2="545.00" y2="524.00" stroke="#333" stroke-width="1.0" />
<line x1="545.00" y1="586.20" x2="545.00" y2="642.60" stroke="#333" stroke-width="1.0" />
<path d="M545.00,472.90 L546.40,478.90 L543.60,478.90Z" fill="#333" stroke="none"/>
<path d="M545.00,642.10 L543.60,636.10 L546.40,636.10Z" fill="#333" stroke="none"/>
<g transform="rotate(-90 544.80 555.10)"><text transform="translate(519.16 559.70) scale(0.765 1)" font-size="13.73" text-anchor="middle">3</text><text transform="translate(524.29 559.70) scale(0.765 1)" font-size="13.73" text-anchor="middle">0</text><text transform="translate(528.24 559.70) scale(0.765 1)" font-size="13.73" text-anchor="middle">.</text><text transform="translate(534.55 559.70) scale(0.765 1)" font-size="13.73" text-anchor="middle">0</text><text transform="translate(539.67 559.70) scale(0.765 1)" font-size="13.73" text-anchor="middle">0</text><text transform="translate(547.36 559.70) scale(1.000 1)" font-size="16.73" text-anchor="middle" class="pm">±</text><text transform="translate(555.05 559.70) scale(0.765 1)" font-size="13.73" text-anchor="middle">0</text><text transform="translate(559.00 559.70) scale(0.765 1)" font-size="13.73" text-anchor="middle">.</text><text transform="translate(565.31 559.70) scale(0.765 1)" font-size="13.73" text-anchor="middle">1</text><text transform="translate(570.44 559.70) scale(0.765 1)" font-size="13.73" text-anchor="middle">0</text></g>
<line x1="431.25" y1="661.00" x2="431.25" y2="689.50" stroke="#333" stroke-width="1.0" />
<line x1="476.25" y1="656.00" x2="476.25" y2="689.50" stroke="#333" stroke-width="1.0" />
<line x1="431.25" y1="686.40" x2="476.25" y2="686.40" stroke="#333" stroke-width="1.0" />
<path d="M431.75,686.40 L437.75,685.00 L437.75,687.80Z" fill="#333" stroke="none"/>
<path d="M475.75,686.40 L469.75,687.80 L469.75,685.00Z" fill="#333" stroke="none"/>
<line x1="476.25" y1="686.40" x2="483.00" y2="686.40" stroke="#333" stroke-width="1.0" />
<g><text transform="translate(488.37 691.00) scale(0.766 1)" font-size="13.73" text-anchor="middle">8</text><text transform="translate(492.33 691.00) scale(0.766 1)" font-size="13.73" text-anchor="middle">.</text><text transform="translate(498.65 691.00) scale(0.766 1)" font-size="13.73" text-anchor="middle">0</text><text transform="translate(503.79 691.00) scale(0.766 1)" font-size="13.73" text-anchor="middle">0</text><text transform="translate(511.50 691.00) scale(1.000 1)" font-size="16.73" text-anchor="middle" class="pm">±</text><text transform="translate(519.21 691.00) scale(0.766 1)" font-size="13.73" text-anchor="middle">0</text><text transform="translate(523.17 691.00) scale(0.766 1)" font-size="13.73" text-anchor="middle">.</text><text transform="translate(529.49 691.00) scale(0.766 1)" font-size="13.73" text-anchor="middle">1</text><text transform="translate(534.63 691.00) scale(0.766 1)" font-size="13.73" text-anchor="middle">0</text></g>
<line x1="689.60" y1="490.00" x2="689.60" y2="505.60" stroke="#333" stroke-width="1.0" />
<line x1="663.70" y1="493.00" x2="701.00" y2="493.00" stroke="#333" stroke-width="1.0" />
<path d="M664.20,493.00 L670.20,491.60 L670.20,494.40Z" fill="#333" stroke="none"/>
<path d="M689.10,493.00 L683.10,494.40 L683.10,491.60Z" fill="#333" stroke="none"/>
<g><text transform="translate(706.77 497.95) scale(0.766 1)" font-size="13.73" text-anchor="middle">3</text><text transform="translate(710.72 497.95) scale(0.766 1)" font-size="13.73" text-anchor="middle">.</text><text transform="translate(717.04 497.95) scale(0.766 1)" font-size="13.73" text-anchor="middle">2</text><text transform="translate(724.75 497.95) scale(1.000 1)" font-size="16.73" text-anchor="middle" class="pm">±</text><text transform="translate(732.46 497.95) scale(0.766 1)" font-size="13.73" text-anchor="middle">0</text><text transform="translate(736.41 497.95) scale(0.766 1)" font-size="13.73" text-anchor="middle">.</text><text transform="translate(742.73 497.95) scale(0.766 1)" font-size="13.73" text-anchor="middle">1</text></g>
<line x1="650.00" y1="539.00" x2="661.70" y2="539.00" stroke="#333" stroke-width="1.0" />
<path d="M661.20,539.00 L655.20,540.40 L655.20,537.60Z" fill="#333" stroke="none"/>
<line x1="684.40" y1="539.00" x2="697.00" y2="539.00" stroke="#333" stroke-width="1.0" />
<path d="M684.90,539.00 L690.90,537.60 L690.90,540.40Z" fill="#333" stroke="none"/>
<g><text transform="translate(702.85 543.45) scale(0.762 1)" font-size="13.73" text-anchor="middle">3</text><text transform="translate(706.79 543.45) scale(0.762 1)" font-size="13.73" text-anchor="middle">.</text><text transform="translate(713.07 543.45) scale(0.762 1)" font-size="13.73" text-anchor="middle">6</text><text transform="translate(718.18 543.45) scale(0.762 1)" font-size="13.73" text-anchor="middle">0</text><text transform="translate(725.85 543.45) scale(1.000 1)" font-size="16.73" text-anchor="middle" class="pm">±</text><text transform="translate(733.51 543.45) scale(0.762 1)" font-size="13.73" text-anchor="middle">0</text><text transform="translate(737.45 543.45) scale(0.762 1)" font-size="13.73" text-anchor="middle">.</text><text transform="translate(743.74 543.45) scale(0.762 1)" font-size="13.73" text-anchor="middle">1</text><text transform="translate(748.85 543.45) scale(0.762 1)" font-size="13.73" text-anchor="middle">0</text></g>
<line x1="190.40" y1="533.00" x2="190.40" y2="581.00" stroke="#333" stroke-width="1.0" />
<path d="M190.4,533 Q190.4,538 186,538 L175.8,538 L175.8,576.3 L186,576.3 Q190.4,576.3 190.4,581" stroke="#333" stroke-width="1.0" fill="none" />
<line x1="184.20" y1="538.00" x2="184.20" y2="576.30" stroke="#333" stroke-width="1.0" />
<path d="M175.8,543.3 L143.8,543.3 L143.8,571.8 L175.8,571.8" stroke="#333" stroke-width="1.0" fill="none" />
<path d="M143.8,542.5 L127.4,547.3 L127.4,567 L143.8,572.5" stroke="#333" stroke-width="1.0" fill="none" />
<path d="M127.4,547.3 L122,547.3 Q121,557 122,567 L127.4,567" stroke="#333" stroke-width="1.0" fill="none" />
<line x1="124.00" y1="547.30" x2="124.00" y2="567.00" stroke="#333" stroke-width="1.0" />
<line x1="121.30" y1="511.00" x2="121.30" y2="547.30" stroke="#333" stroke-width="1.0" />
<line x1="108.00" y1="515.00" x2="189.00" y2="515.00" stroke="#333" stroke-width="1.0" />
<path d="M121.80,515.00 L127.80,513.60 L127.80,516.40Z" fill="#333" stroke="none"/>
<path d="M189.00,515.00 L183.00,516.40 L183.00,513.60Z" fill="#333" stroke="none"/>
<g><text transform="translate(61.34 519.50) scale(0.759 1)" font-size="13.73" text-anchor="middle">1</text><text transform="translate(66.43 519.50) scale(0.759 1)" font-size="13.73" text-anchor="middle">2</text><text transform="translate(70.35 519.50) scale(0.759 1)" font-size="13.73" text-anchor="middle">.</text><text transform="translate(76.61 519.50) scale(0.759 1)" font-size="13.73" text-anchor="middle">0</text><text transform="translate(84.24 519.50) scale(1.000 1)" font-size="16.73" text-anchor="middle" class="pm">±</text><text transform="translate(91.88 519.50) scale(0.759 1)" font-size="13.73" text-anchor="middle">0</text><text transform="translate(95.80 519.50) scale(0.759 1)" font-size="13.73" text-anchor="middle">.</text><text transform="translate(102.06 519.50) scale(0.759 1)" font-size="13.73" text-anchor="middle">2</text></g>
<line x1="112.80" y1="547.30" x2="121.00" y2="547.30" stroke="#333" stroke-width="1.0" />
<line x1="112.80" y1="567.00" x2="121.00" y2="567.00" stroke="#333" stroke-width="1.0" />
<line x1="116.20" y1="534.00" x2="116.20" y2="547.30" stroke="#333" stroke-width="1.0" />
<path d="M116.20,547.00 L114.80,541.00 L117.60,541.00Z" fill="#333" stroke="none"/>
<line x1="116.20" y1="567.00" x2="116.20" y2="585.80" stroke="#333" stroke-width="1.0" />
<line x1="116.20" y1="585.80" x2="109.20" y2="585.80" stroke="#333" stroke-width="1.0" />
<path d="M116.20,567.30 L117.60,573.30 L114.80,573.30Z" fill="#333" stroke="none"/>
<g><text transform="translate(56.88 591.20) scale(0.771 1)" font-size="13.73" text-anchor="middle">3</text><text transform="translate(60.87 591.20) scale(0.771 1)" font-size="13.73" text-anchor="middle">.</text><text transform="translate(67.22 591.20) scale(0.771 1)" font-size="13.73" text-anchor="middle">6</text><text transform="translate(72.39 591.20) scale(0.771 1)" font-size="13.73" text-anchor="middle">0</text><text transform="translate(80.15 591.20) scale(1.000 1)" font-size="16.73" text-anchor="middle" class="pm">±</text><text transform="translate(87.91 591.20) scale(0.771 1)" font-size="13.73" text-anchor="middle">0</text><text transform="translate(91.89 591.20) scale(0.771 1)" font-size="13.73" text-anchor="middle">.</text><text transform="translate(98.25 591.20) scale(0.771 1)" font-size="13.73" text-anchor="middle">1</text><text transform="translate(103.42 591.20) scale(0.771 1)" font-size="13.73" text-anchor="middle">0</text></g>
<line x1="130.80" y1="542.30" x2="143.80" y2="542.30" stroke="#333" stroke-width="1.0" />
<line x1="130.80" y1="572.30" x2="143.80" y2="572.30" stroke="#333" stroke-width="1.0" />
<line x1="133.60" y1="542.30" x2="133.60" y2="603.60" stroke="#333" stroke-width="1.0" />
<line x1="133.60" y1="603.60" x2="127.00" y2="603.60" stroke="#333" stroke-width="1.0" />
<path d="M133.60,542.80 L135.00,548.80 L132.20,548.80Z" fill="#333" stroke="none"/>
<path d="M133.60,571.80 L132.20,565.80 L135.00,565.80Z" fill="#333" stroke="none"/>
<g><text transform="translate(74.60 607.95) scale(0.775 1)" font-size="13.73" text-anchor="middle">5</text><text transform="translate(78.60 607.95) scale(0.775 1)" font-size="13.73" text-anchor="middle">.</text><text transform="translate(85.00 607.95) scale(0.775 1)" font-size="13.73" text-anchor="middle">4</text><text transform="translate(90.20 607.95) scale(0.775 1)" font-size="13.73" text-anchor="middle">0</text><text transform="translate(98.00 607.95) scale(1.000 1)" font-size="16.73" text-anchor="middle" class="pm">±</text><text transform="translate(105.80 607.95) scale(0.775 1)" font-size="13.73" text-anchor="middle">0</text><text transform="translate(109.80 607.95) scale(0.775 1)" font-size="13.73" text-anchor="middle">.</text><text transform="translate(116.20 607.95) scale(0.775 1)" font-size="13.73" text-anchor="middle">1</text><text transform="translate(121.40 607.95) scale(0.775 1)" font-size="13.73" text-anchor="middle">0</text></g>
<line x1="158.10" y1="543.30" x2="158.10" y2="617.60" stroke="#333" stroke-width="1.0" />
<line x1="158.10" y1="617.60" x2="150.50" y2="617.60" stroke="#333" stroke-width="1.0" />
<path d="M158.10,543.80 L159.50,549.80 L156.70,549.80Z" fill="#333" stroke="none"/>
<path d="M158.10,571.30 L156.70,565.30 L159.50,565.30Z" fill="#333" stroke="none"/>
<g><text transform="translate(98.88 621.70) scale(0.771 1)" font-size="13.73" text-anchor="middle">5</text><text transform="translate(102.87 621.70) scale(0.771 1)" font-size="13.73" text-anchor="middle">.</text><text transform="translate(109.22 621.70) scale(0.771 1)" font-size="13.73" text-anchor="middle">0</text><text transform="translate(114.39 621.70) scale(0.771 1)" font-size="13.73" text-anchor="middle">0</text><text transform="translate(122.15 621.70) scale(1.000 1)" font-size="16.73" text-anchor="middle" class="pm">±</text><text transform="translate(129.91 621.70) scale(0.771 1)" font-size="13.73" text-anchor="middle">0</text><text transform="translate(133.89 621.70) scale(0.771 1)" font-size="13.73" text-anchor="middle">.</text><text transform="translate(140.25 621.70) scale(0.771 1)" font-size="13.73" text-anchor="middle">1</text><text transform="translate(145.41 621.70) scale(0.771 1)" font-size="13.73" text-anchor="middle">0</text></g>
<line x1="169.00" y1="538.00" x2="175.80" y2="538.00" stroke="#333" stroke-width="1.0" />
<line x1="169.00" y1="576.30" x2="175.80" y2="576.30" stroke="#333" stroke-width="1.0" />
<line x1="171.60" y1="538.00" x2="171.60" y2="634.40" stroke="#333" stroke-width="1.0" />
<line x1="171.60" y1="634.40" x2="164.50" y2="634.40" stroke="#333" stroke-width="1.0" />
<path d="M171.60,538.50 L173.00,544.50 L170.20,544.50Z" fill="#333" stroke="none"/>
<path d="M171.60,575.80 L170.20,569.80 L173.00,569.80Z" fill="#333" stroke="none"/>
<g><text transform="translate(113.08 638.50) scale(0.768 1)" font-size="13.73" text-anchor="middle">6</text><text transform="translate(117.04 638.50) scale(0.768 1)" font-size="13.73" text-anchor="middle">.</text><text transform="translate(123.38 638.50) scale(0.768 1)" font-size="13.73" text-anchor="middle">8</text><text transform="translate(128.53 638.50) scale(0.768 1)" font-size="13.73" text-anchor="middle">0</text><text transform="translate(136.25 638.50) scale(1.000 1)" font-size="16.73" text-anchor="middle" class="pm">±</text><text transform="translate(143.98 638.50) scale(0.768 1)" font-size="13.73" text-anchor="middle">0</text><text transform="translate(147.94 638.50) scale(0.768 1)" font-size="13.73" text-anchor="middle">.</text><text transform="translate(154.28 638.50) scale(0.768 1)" font-size="13.73" text-anchor="middle">1</text><text transform="translate(159.43 638.50) scale(0.768 1)" font-size="13.73" text-anchor="middle">0</text></g>
</svg></body></html>
